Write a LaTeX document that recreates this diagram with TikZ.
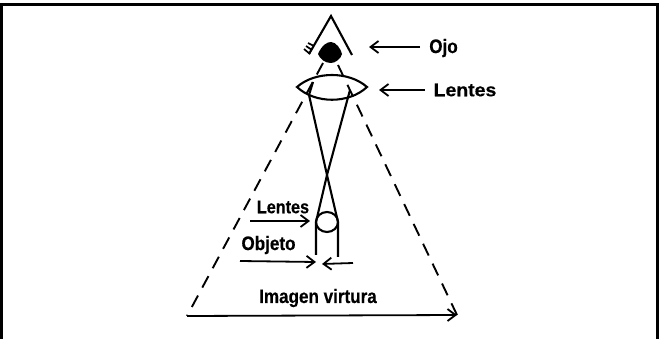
\documentclass[tikz,border=0pt]{standalone}
\usepackage{fontspec}
\setmainfont{Liberation Sans}[FakeStretch=0.875,FakeBold=0.4]
\newfontfamily\widefont{Liberation Sans}[FakeStretch=1.05,FakeBold=0.4]
\usetikzlibrary{positioning,arrows.meta,calc,shapes.geometric}
\begin{document}
\begin{tikzpicture}[
  x=1pt, y=-1pt,
  font=\fontsize{19.5}{22}\selectfont\bfseries,
  line/.style={line width=2.1pt},
  dashray/.style={line width=1.9pt, dash pattern=on 13pt off 9pt},
  arrow/.style={-{Straight Barb[length=8pt,width=12pt,line width=1.8pt]}, line width=1.8pt},
  lbl/.style={inner sep=0pt}
]
\useasboundingbox (0,0) rectangle (659,339);
\draw[line width=2.4pt] (1.5,339) -- (1.5,4.5) -- (657.5,4.5) -- (657.5,339);
% ojo
\coordinate (peak) at (331,16);
\coordinate (eyeL) at (309,54);
\coordinate (eyeR) at (352,55);
\draw[line] (eyeL) -- (peak) -- (eyeR);
\fill (318,54) .. controls (322,45) and (327,42) .. (331,42) .. controls (336,42) and (341,49) .. (342,54) .. controls (341,59) and (335,63) .. (331,63) .. controls (325,63) and (320,59) .. (318,54) -- cycle;
\draw[line width=1.7pt] (304,49) -- (310,54) (306,46) -- (312,50) (308,43) -- (314,46);
% lentes
\node[lbl] (ojo) at (443.5,48) {Ojo};
\node[lbl, font=\fontsize{18.5}{20}\widefont\bfseries] (lentes) at (465,90) {Lentes};
\node[lbl, font=\fontsize{18.5}{20}\selectfont\bfseries] (lentesB) at (283,207) {Lentes};
\node[lbl] (objeto) at (268.5,245) {Objeto};
\node[lbl] (imagen) at (318,298) {Imagen virtura};
\coordinate (lensL) at (297,87);
\coordinate (lensR) at (367,87);
\draw[line] (lensL) .. controls (315,71) and (349,71) .. (lensR) .. controls (349,104) and (315,104) .. (lensL) -- cycle;
\coordinate (cross) at (327,175);
\coordinate (objL) at (316,222);
\coordinate (objR) at (338,222);
\draw[line] (313,82) -- (309,95) -- (cross) -- (objR) -- (338,257);
\draw[line] (350,90) -- (cross) -- (objL) -- (316,255);
\node[draw, ellipse, line width=2.1pt, minimum width=22pt, minimum height=20pt, inner sep=0pt] (objLens) at (327,222) {};
% rayos
\coordinate (baseL) at (187,316);
\coordinate (baseR) at (457,315);
\draw[dashray] (323,63) -- (baseL);
\draw[dashray] (338,65) -- (baseR);
\draw[arrow] (baseL) -- (baseR);
% flechas
\draw[arrow] (420,47) -- (369,47);
\draw[arrow] (425,90) -- (379,90);
\draw[arrow] (250,221) -- (310,221);
\draw[arrow] (240,261) -- (316,262);
\draw[arrow] (353,263) -- (322,264);
\end{tikzpicture}
\end{document}
